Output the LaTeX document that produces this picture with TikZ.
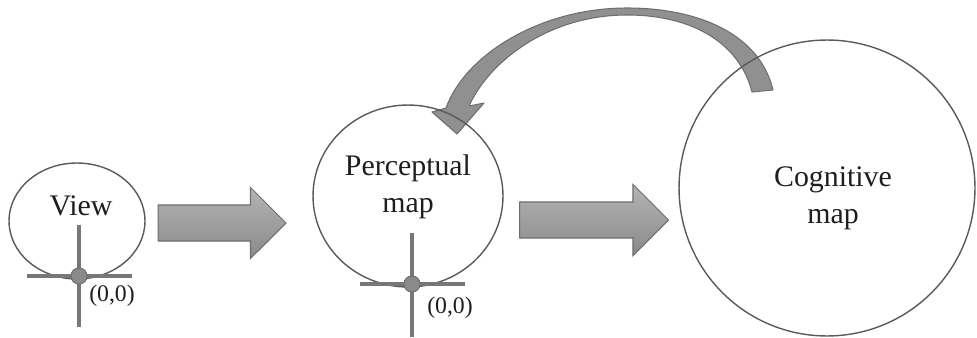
\documentclass[tikz,border=0pt]{standalone}
\usepackage{fontspec}
\setmainfont{Liberation Serif}
\usepackage{tikz}
\usetikzlibrary{arrows.meta,positioning,calc,shapes.geometric,shapes.arrows}
\definecolor{RingGray}{HTML}{5A5A5A}
\definecolor{AxisGray}{HTML}{777777}
\definecolor{ArrowTop}{HTML}{B4B4B4}
\definecolor{ArrowBottom}{HTML}{8A8A8A}
\definecolor{ArrowEdge}{HTML}{6E6E6E}
\definecolor{TextDark}{HTML}{1E1E1E}

\begin{document}
\begin{tikzpicture}[
    x=0.02cm, y=-0.02cm,
    ring/.style={draw=RingGray, line width=0.8pt, ellipse, inner sep=0pt},
    lbl/.style={font=\fontsize{17}{21}\selectfont, text=TextDark, align=center, inner sep=0pt},
    orig/.style={font=\fontsize{13.5}{16}\selectfont, text=TextDark, inner sep=0pt},
    axis/.style={draw=AxisGray, line width=1.8pt},
    dot/.style={circle, fill=ArrowBottom, draw=ArrowEdge, line width=0.5pt, minimum size=0.32cm, inner sep=0pt},
    blockarr/.style={single arrow, single arrow head extend=0.35cm, inner xsep=0pt, inner ysep=0.35cm, minimum width=0pt, top color=ArrowTop, bottom color=ArrowBottom, draw=ArrowEdge, line width=0.6pt}
]
\useasboundingbox (0,0) rectangle (977,338);

% feedback arrow from the cognitive map back to the perceptual map (drawn first, rings go over it)
\filldraw[fill=ArrowBottom!95, draw=ArrowEdge, line width=0.6pt, line join=round]
    (773,90) .. controls (760,35) and (700,8) .. (627,8)
    .. controls (540,8) and (465,55) .. (446,108)
    -- (432,112) -- (457,134) -- (484,103) -- (469,106)
    .. controls (490,60) and (550,15) .. (627,15)
    .. controls (695,15) and (740,45) .. (752,92) -- cycle;

% the three maps
\node[ring, minimum width=2.72cm, minimum height=2.32cm] (view) at (77,221) {};
\node[ring, minimum width=3.8cm, minimum height=3.64cm] (perc) at (408,196) {};
\node[ring, circle, minimum size=5.92cm] (cog) at (827,188) {};

\node[lbl] (viewtxt) at (81,206) {View};
\node[lbl] (perctxt) at (408,187) {Perceptual\\map};
\node[lbl] (cogtxt) at (833,198) {Cognitive\\map};

% origin axes
\node[dot] (viewO) at (79,276) {};
\node[dot] (percO) at (412,284) {};
\draw[axis] (viewO) ++(0,-51) -- ++(0,102);
\draw[axis] (viewO) ++(-52,0) -- ++(105,0);
\draw[axis] (percO) ++(0,-51) -- ++(0,104);
\draw[axis] (percO) ++(-52,0) -- ++(105,0);
\node[dot] at (viewO) {};
\node[dot] at (percO) {};
\node[orig] (viewOtxt) at (112,296) {(0,0)};
\node[orig] (percOtxt) at (450,308) {(0,0)};

% block arrows between the maps
\node[blockarr, minimum height=2.56cm] (stepA) at (213,223) {};
\node[blockarr, minimum height=2.98cm] (stepB) at (585,220) {};
\end{tikzpicture}
\end{document}
